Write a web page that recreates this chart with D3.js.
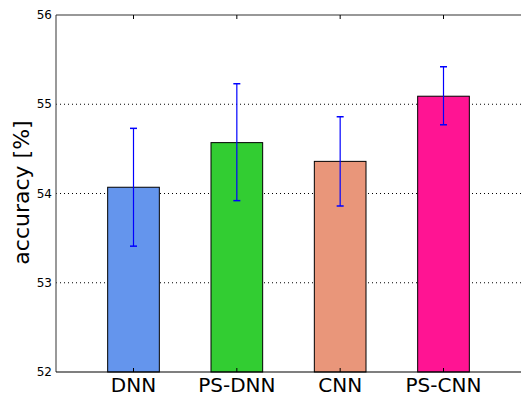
<!DOCTYPE html>
<html>
<head>
<meta charset="utf-8">
<script src="https://d3js.org/d3.v7.min.js"></script>
<style>
  body { margin: 0; background: #fff; }
  svg { font-family: "DejaVu Sans", sans-serif; }
</style>
</head>
<body>
<div id="chart"></div>
<script>
// data
var categories = ["DNN", "PS-DNN", "CNN", "PS-CNN"];
var accuracy = [54.07, 54.57, 54.36, 55.09];
var errLow = [53.41, 53.92, 53.86, 54.77];
var errHigh = [54.73, 55.23, 54.86, 55.42];
var barColors = ["#6495ED", "#32CD32", "#E9967A", "#FF1493"];
var yTicks = [52, 53, 54, 55, 56];

var W = 522, H = 398;
var margin = {top: 15, right: 1, bottom: 26, left: 56};
var width = W - margin.left - margin.right,
    height = H - margin.top - margin.bottom;

var svg = d3.select("#chart").append("svg")
    .attr("width", W)
    .attr("height", H)
  .append("g")
    .attr("transform", "translate(" + margin.left + "," + margin.top + ")");

// scales: bar index positions like matplotlib, xlim -0.75..3.75
var x = d3.scaleLinear().domain([-0.75, 3.75]).range([0, width]);
var y = d3.scaleLinear().domain([52, 56]).range([height, 0]);
var barW = 0.5;

// dotted y grid
svg.append("g")
    .selectAll("line")
    .data(yTicks.slice(1, 4))
    .enter().append("line")
    .attr("x1", 0).attr("x2", width)
    .attr("y1", function(d) { return y(d); })
    .attr("y2", function(d) { return y(d); })
    .style("stroke", "#000")
    .style("stroke-width", 1)
    .style("stroke-dasharray", "1,3");

// bars
svg.selectAll(".bar")
    .data(accuracy)
    .enter().append("rect")
    .attr("class", "bar")
    .attr("x", function(d, i) { return x(i - barW / 2); })
    .attr("width", x(barW) - x(0))
    .attr("y", function(d) { return y(d); })
    .attr("height", function(d) { return height - y(d); })
    .style("fill", function(d, i) { return barColors[i]; })
    .style("stroke", "#000")
    .style("stroke-width", 1);

// error bars
var err = svg.append("g").selectAll("g")
    .data(categories)
    .enter().append("g");

err.append("line")
    .attr("x1", function(d, i) { return x(i); })
    .attr("x2", function(d, i) { return x(i); })
    .attr("y1", function(d, i) { return y(errLow[i]); })
    .attr("y2", function(d, i) { return y(errHigh[i]); })
    .style("stroke", "#0000ff")
    .style("stroke-width", 1.2);

[errLow, errHigh].forEach(function(arr) {
  err.append("line")
      .attr("x1", function(d, i) { return x(i) - 3.5; })
      .attr("x2", function(d, i) { return x(i) + 3.5; })
      .attr("y1", function(d, i) { return y(arr[i]); })
      .attr("y2", function(d, i) { return y(arr[i]); })
      .style("stroke", "#0000ff")
      .style("stroke-width", 1.5);
});

// spines
svg.append("line").attr("x1", 0).attr("x2", 0).attr("y1", 0).attr("y2", height)
    .style("stroke", "#555").style("stroke-width", 1.2);
svg.append("line").attr("x1", 0).attr("x2", width).attr("y1", height).attr("y2", height)
    .style("stroke", "#000").style("stroke-width", 1.2);
svg.append("line").attr("x1", 0).attr("x2", width).attr("y1", 0).attr("y2", 0)
    .style("stroke", "#333").style("stroke-width", 1.2);

// x ticks inside, top and bottom
var xTickG = svg.append("g");
categories.forEach(function(c, i) {
  xTickG.append("line").attr("x1", x(i)).attr("x2", x(i))
      .attr("y1", height).attr("y2", height - 4).style("stroke", "#000");
  xTickG.append("line").attr("x1", x(i)).attr("x2", x(i))
      .attr("y1", 0).attr("y2", 4).style("stroke", "#000");
});

// x labels
svg.append("g").selectAll("text")
    .data(categories)
    .enter().append("text")
    .attr("x", function(d, i) { return x(i); })
    .attr("y", height + 20)
    .attr("text-anchor", "middle")
    .style("font-size", "20px")
    .style("fill", "#000")
    .text(function(d) { return d; });

// y tick labels
svg.append("g").selectAll("text")
    .data(yTicks)
    .enter().append("text")
    .attr("x", -4)
    .attr("y", function(d) { return y(d); })
    .attr("dy", "0.35em")
    .attr("text-anchor", "end")
    .style("font-size", "12px")
    .style("fill", "#000")
    .text(function(d) { return d; });

// y label
svg.append("text")
    .attr("transform", "rotate(-90)")
    .attr("x", -height / 2 + 1)
    .attr("y", -27)
    .attr("text-anchor", "middle")
    .style("font-size", "22px")
    .style("fill", "#000")
    .text("accuracy [%]");
</script>
</body>
</html>
